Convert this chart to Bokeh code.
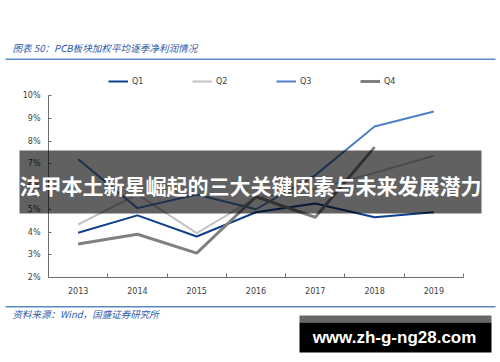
from bokeh.plotting import figure
from bokeh.models import (Label, Legend, LegendItem, FixedTicker,
                          NumeralTickFormatter, Range1d, Column, Row)
from bokeh.embed import file_html
from bokeh.resources import INLINE

# ---- data ----
years = [2013, 2014, 2015, 2016, 2017, 2018, 2019]
q1 = [0.0397, 0.0473, 0.0380, 0.0487, 0.0525, 0.0465, 0.0487]
q2 = [0.0433, 0.0565, 0.0395, 0.0550, 0.0590, 0.0660, 0.0735]
q3 = [0.0720, 0.0505, 0.0565, 0.0500, 0.0650, 0.0864, 0.0930]
q4_years = [2013, 2014, 2015, 2016, 2017, 2018]
q4 = [0.0347, 0.0390, 0.0307, 0.0555, 0.0465, 0.0773]
y_ticks = [0.02, 0.03, 0.04, 0.05, 0.06, 0.07, 0.08, 0.09, 0.10]
series_names = ["Q1", "Q2", "Q3", "Q4"]
series_colors = ["#0f3f8f", "#c3c3c3", "#4f81c7", "#808080"]
series_widths = [2, 2, 2, 3]

title_text = "图表 50：PCB板块加权平均逐季净利润情况"
source_text = "资料来源：Wind，国盛证券研究所"
banner_text = "法甲本土新星崛起的三大关键因素与未来发展潜力"
mark_text = "www.zh-g-ng28.com"

W, H = 500, 362
FL, FR, FT, FB = 48, 463, 95, 277

# ---- main chart ----
p = figure(width=W, height=H, output_backend="svg", toolbar_location=None,
           x_range=Range1d(2012.5, 2019.5), y_range=Range1d(0.02, 0.10),
           min_border_left=FL, min_border_right=W - FR,
           min_border_top=FT, min_border_bottom=H - FB)
p.background_fill_color = "white"
p.border_fill_color = "white"
p.outline_line_color = None
p.xgrid.visible = False
p.ygrid.visible = False

axis_col = "#6d6d6d"
p.xaxis.ticker = FixedTicker(ticks=years, minor_ticks=[y - 0.5 for y in years] + [2019.5])
p.xaxis.formatter = NumeralTickFormatter(format="0")
p.xaxis.major_tick_line_color = None
p.xaxis.minor_tick_in = 4
p.xaxis.minor_tick_out = 0
p.xaxis.minor_tick_line_color = axis_col
p.xaxis.axis_line_color = axis_col
p.xaxis.major_label_standoff = 3
p.xaxis.major_label_text_font_size = "8px"
p.xaxis.major_label_text_color = "#404040"
p.xaxis.major_label_text_font = "DejaVu Sans"

p.yaxis.ticker = FixedTicker(ticks=y_ticks)
p.yaxis.formatter = NumeralTickFormatter(format="0%")
p.yaxis.major_tick_in = 3
p.yaxis.major_tick_out = 0
p.yaxis.minor_tick_line_color = None
p.yaxis.major_tick_line_color = axis_col
p.yaxis.axis_line_color = axis_col
p.yaxis.major_label_standoff = 8
p.yaxis.major_label_text_font_size = "8px"
p.yaxis.major_label_text_color = "#404040"
p.yaxis.major_label_text_font = "DejaVu Sans"

all_x = [years, years, years, q4_years]
all_y = [q1, q2, q3, q4]
for xs, ys, c, w in zip(all_x, all_y, series_colors, series_widths):
    p.line(xs, ys, line_color=c, line_width=w)

# ---- overlay (canvas-pixel coordinates, y downwards) ----
o = figure(width=W, height=H, output_backend="svg", toolbar_location=None,
           x_range=Range1d(0, W), y_range=Range1d(H, 0),
           min_border=0)
o.axis.visible = False
o.grid.visible = False
o.outline_line_color = None
o.background_fill_alpha = 0
o.border_fill_alpha = 0

dummy = [o.line([-30, -20], [-30, -20], line_color=c, line_width=w)
         for c, w in zip(series_colors, series_widths)]
legend = Legend(items=[LegendItem(label=n, renderers=[r]) for n, r in zip(series_names, dummy)],
                orientation="horizontal", location=(108, H - 86),
                glyph_width=20, glyph_height=10, label_height=10,
                label_standoff=4, spacing=40, padding=0, margin=0,
                label_text_font_size="8px", label_text_font="DejaVu Sans",
                label_text_color="#404040",
                border_line_color=None, background_fill_alpha=0)
o.add_layout(legend)


def label(x, y, text, size, color, font, style="normal", align="left"):
    o.add_layout(Label(x=x, y=y, text=text, text_font_size=size, text_color=color,
                       text_font=font, text_font_style=style, text_align=align,
                       text_baseline="middle"))


label(12, 47, title_text, "9.6px", "#2f5aa8", "Noto Sans CJK SC", "italic")
o.quad(left=5, right=495, top=58, bottom=59.5, fill_color="#5b87c5", line_color=None)
o.quad(left=5, right=495, top=305.5, bottom=307, fill_color="#5b87c5", line_color=None)
label(12, 313, source_text, "9.5px", "#2f5aa8", "Noto Sans CJK SC", "italic")

o.quad(left=19, right=481, top=150, bottom=213, fill_color="black", fill_alpha=0.62,
       line_color=None)
label(250, 184, banner_text, "21px", "white", "Noto Sans CJK SC", "bold", "center")

o.quad(left=299, right=491, top=315, bottom=322, fill_color="#666666", line_color=None)
o.quad(left=299, right=491, top=322, bottom=352, fill_color="black", line_color=None)
label(394, 337, mark_text, "17px", "white", "Liberation Sans", "bold", "center")

layout = Column(children=[Row(children=[p]),
                          Row(children=[o], margin=(-H, 0, 0, 0))], spacing=0)
open("out.html", "w").write(file_html(layout, INLINE))
